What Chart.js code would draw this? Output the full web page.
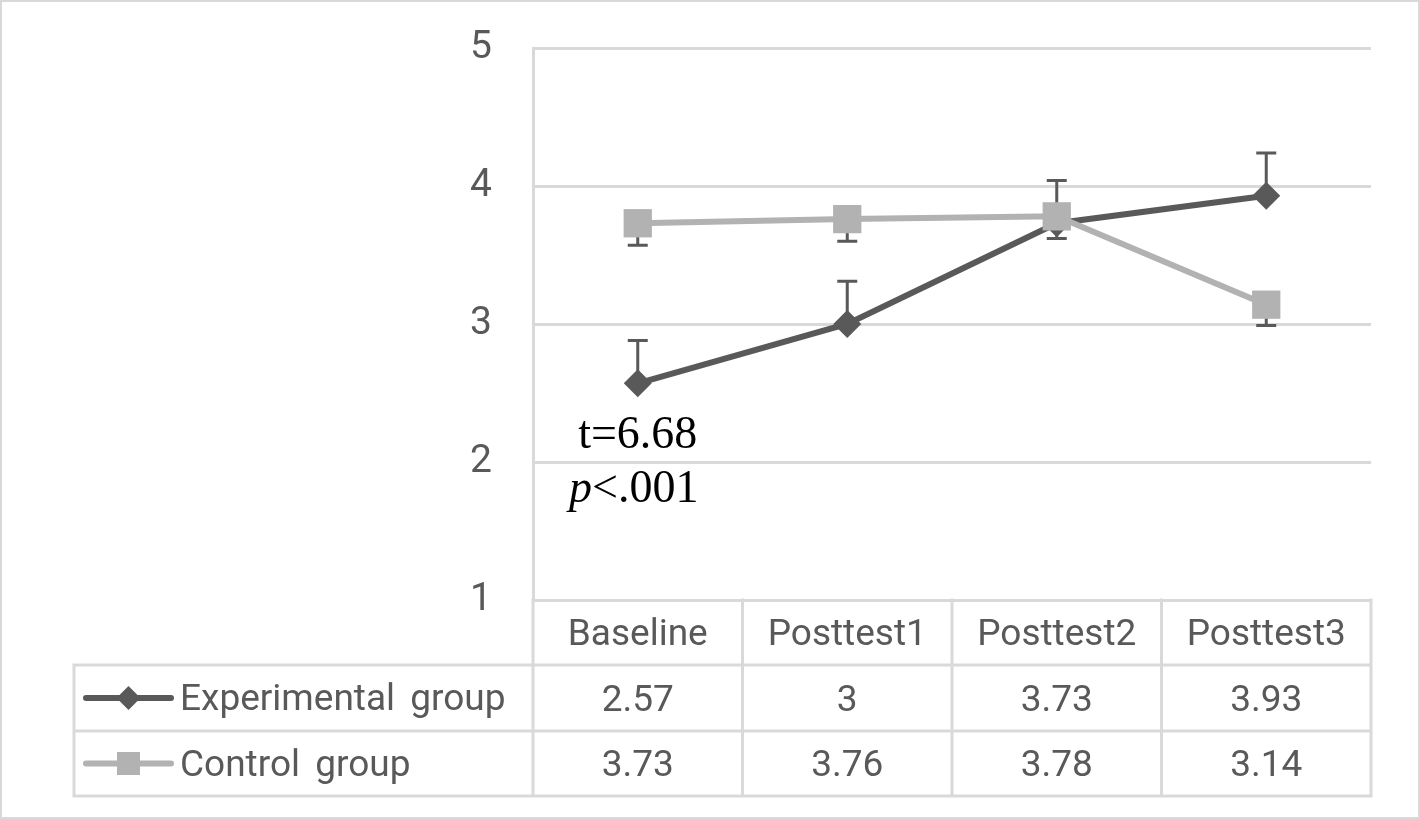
<!DOCTYPE html>
<html>
<head>
<meta charset="utf-8">
<script src="https://cdn.jsdelivr.net/npm/chart.js@4"></script>
<style>
html,body{margin:0;padding:0;background:#fff;}
canvas{display:block;}
</style>
</head>
<body>
<canvas id="c" width="1420" height="819"></canvas>
<script>
// ---- data ----
const categories = ['Baseline', 'Posttest1', 'Posttest2', 'Posttest3'];
const experimentalLabel = 'Experimental group';
const controlLabel = 'Control group';
const experimentalValues = [2.57, 3, 3.73, 3.93];
const controlValues = [3.73, 3.76, 3.78, 3.14];
const experimentalErrors = [0.31, 0.31, 0.31, 0.31];   // drawn upward
const controlErrors = [0.16, 0.16, 0.16, 0.15];        // drawn downward
const yTicks = [1, 2, 3, 4, 5];
const statText = 't=6.68';
const pText = ['p', '<.001'];

// ---- styles ----
const FONT = 'Roboto, "Noto Sans", sans-serif';
const FSIZE = 37;
const TXT = '#595959';
const GRID = '#d9d9d9';
const DARK = '#595959';
const LIGHT = '#b2b2b2';

const errorBarPlugin = {
  id: 'errorBars',
  beforeDatasetsDraw(chart) {
    const { ctx, scales: { x, y } } = chart;
    ctx.save();
    ctx.strokeStyle = DARK;
    ctx.lineWidth = 3;
    const draw = (vals, errs, dir) => vals.forEach((v, i) => {
      const px = x.getPixelForValue(i);
      const y0 = y.getPixelForValue(v);
      const y1 = y.getPixelForValue(v + dir * errs[i]);
      ctx.beginPath();
      ctx.moveTo(px, y0); ctx.lineTo(px, y1);
      ctx.moveTo(px - 10, y1); ctx.lineTo(px + 10, y1);
      ctx.stroke();
    });
    draw(experimentalValues, experimentalErrors, 1);
    draw(controlValues, controlErrors, -1);
    ctx.restore();
  }
};

const tablePlugin = {
  id: 'dataTable',
  afterDraw(chart) {
    const { ctx, chartArea: a, scales: { x, y } } = chart;
    const n = categories.length;
    const colW = (a.right - a.left) / n;
    const hB = a.bottom + 65, r1B = hB + 66, r2B = r1B + 65;
    const tableLeft = 74;
    ctx.save();
    ctx.strokeStyle = GRID;
    ctx.lineWidth = 3;
    ctx.lineCap = 'square';
    ctx.beginPath();
    [hB, r1B, r2B].forEach(yy => { ctx.moveTo(tableLeft, yy); ctx.lineTo(a.right, yy); });
    ctx.moveTo(tableLeft, hB); ctx.lineTo(tableLeft, r2B);
    for (let i = 0; i <= n; i++) {
      const xx = a.left + i * colW;
      ctx.moveTo(xx, a.bottom); ctx.lineTo(xx, r2B);
    }
    ctx.stroke();
    // outer chart border
    ctx.lineWidth = 2;
    ctx.strokeRect(1, 1, chart.width - 2, chart.height - 2);

    // table text
    ctx.fillStyle = TXT;
    ctx.font = FSIZE + 'px ' + FONT;
    ctx.textAlign = 'center';
    ctx.textBaseline = 'alphabetic';
    categories.forEach((c, i) => {
      const cx = x.getPixelForValue(i);
      ctx.fillText(c, cx, a.bottom + 45);
      ctx.fillText(String(experimentalValues[i]), cx, a.bottom + 111);
      ctx.fillText(String(controlValues[i]), cx, a.bottom + 176);
    });

    // legend keys
    const r1c = (hB + r1B) / 2, r2c = (r1B + r2B) / 2;
    ctx.lineCap = 'round';
    ctx.lineWidth = 6;
    ctx.strokeStyle = DARK;
    ctx.beginPath(); ctx.moveTo(86, r1c); ctx.lineTo(171, r1c); ctx.stroke();
    ctx.fillStyle = DARK;
    ctx.beginPath();
    ctx.moveTo(128.5, r1c - 12); ctx.lineTo(140.5, r1c); ctx.lineTo(128.5, r1c + 12); ctx.lineTo(116.5, r1c);
    ctx.closePath(); ctx.fill();
    ctx.strokeStyle = LIGHT;
    ctx.beginPath(); ctx.moveTo(86, r2c); ctx.lineTo(171, r2c); ctx.stroke();
    ctx.fillStyle = LIGHT;
    ctx.fillRect(117, r2c - 11.5, 23, 23);

    ctx.fillStyle = TXT;
    ctx.textAlign = 'left';
    if ('wordSpacing' in ctx) ctx.wordSpacing = '6px';
    ctx.fillText(experimentalLabel, 180, a.bottom + 110);
    ctx.fillText(controlLabel, 180, a.bottom + 176);
    if ('wordSpacing' in ctx) ctx.wordSpacing = '0px';

    // annotation
    const ax = x.getPixelForValue(0);
    ctx.fillStyle = '#000';
    ctx.textAlign = 'center';
    ctx.font = '46px "Liberation Serif", "Times New Roman", serif';
    ctx.fillText(statText, ax, y.getPixelForValue(2.1));
    ctx.textAlign = 'left';
    const italic = 'italic 46px "Liberation Serif", "Times New Roman", serif';
    const normal = '46px "Liberation Serif", "Times New Roman", serif';
    ctx.font = italic; const w1 = ctx.measureText(pText[0]).width;
    ctx.font = normal; const w2 = ctx.measureText(pText[1]).width;
    const sx = ax - 4 - (w1 + w2) / 2;
    const by = y.getPixelForValue(1.71);
    ctx.font = italic; ctx.fillText(pText[0], sx, by);
    ctx.font = normal; ctx.fillText(pText[1], sx + w1, by);
    ctx.restore();
  }
};

new Chart(document.getElementById('c'), {
  type: 'line',
  data: {
    labels: categories,
    datasets: [
      {
        label: experimentalLabel,
        data: experimentalValues,
        borderColor: DARK,
        backgroundColor: DARK,
        borderWidth: 6,
        pointStyle: 'rectRot',
        pointRadius: 14,
        pointBorderWidth: 0,
        pointBackgroundColor: DARK,
        tension: 0,
        order: 1
      },
      {
        label: controlLabel,
        data: controlValues,
        borderColor: LIGHT,
        backgroundColor: LIGHT,
        borderWidth: 6,
        pointStyle: 'rect',
        pointRadius: 20,
        pointBorderWidth: 0,
        pointBackgroundColor: LIGHT,
        tension: 0,
        order: 0
      }
    ]
  },
  options: {
    responsive: false,
    animation: false,
    devicePixelRatio: 1,
    layout: { padding: { left: 0, top: 48, right: 49, bottom: 219 } },
    plugins: { legend: { display: false }, tooltip: { enabled: false } },
    scales: {
      x: { type: 'category', offset: true, display: false },
      y: {
        min: 1, max: 5,
        afterBuildTicks(s) { s.ticks = yTicks.map(v => ({ value: v })); },
        afterFit(s) { s.width = 533; },
        ticks: { color: TXT, font: { family: FONT, size: 39 }, padding: 0 },
        grid: { color: GRID, lineWidth: 3, drawTicks: true, tickLength: 41, tickColor: 'rgba(0,0,0,0)' },
        border: { display: true, color: GRID, width: 3 }
      }
    }
  },
  plugins: [errorBarPlugin, tablePlugin]
});
</script>
</body>
</html>
